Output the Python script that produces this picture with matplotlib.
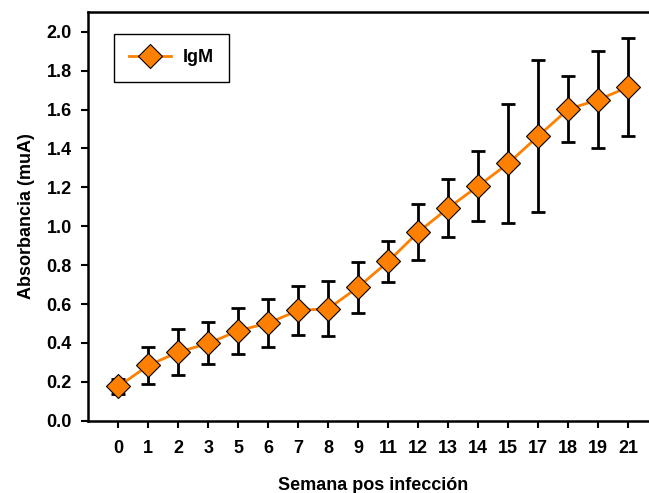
import numpy as np
import matplotlib.pyplot as plt

plt.rcParams['font.family'] = ['Liberation Sans', 'DejaVu Sans']
plt.rcParams['font.weight'] = 'bold'

# semanas pos infección (categorías) y absorbancia IgM
semanas = ['0', '1', '2', '3', '5', '6', '7', '8', '9', '11', '12', '13',
           '14', '15', '17', '18', '19', '21']
igm = [0.176, 0.284, 0.353, 0.397, 0.463, 0.502, 0.567, 0.576, 0.687, 0.819,
       0.970, 1.094, 1.207, 1.323, 1.464, 1.602, 1.650, 1.716]
err = [0.040, 0.093, 0.120, 0.108, 0.119, 0.124, 0.124, 0.140, 0.131, 0.104,
       0.146, 0.151, 0.178, 0.304, 0.390, 0.171, 0.250, 0.252]

x = np.arange(len(semanas))

fig = plt.figure(figsize=(6.49, 4.93), dpi=100)
ax = fig.add_axes([88.3 / 649, 1 - 420.7 / 493, 570 / 649, 408.4 / 493])

ax.errorbar(x, igm, yerr=err, fmt='none', ecolor='black', elinewidth=2,
            capsize=5, capthick=2, zorder=2)
ax.plot(x, igm, color='#FF8000', lw=2, marker='D', ms=12,
        markerfacecolor='#FF8000', markeredgecolor='black', markeredgewidth=0.8,
        label='IgM', zorder=3)

ax.set_xlim(-1, 18)
ax.set_ylim(0, 2.1)
ax.set_xticks(x)
ax.set_xticklabels(semanas)
ax.set_yticks(np.arange(0, 2.01, 0.2))
ax.set_yticklabels([f'{v:.1f}' for v in np.arange(0, 2.01, 0.2)])
ax.tick_params(direction='out', length=5, width=1.5, labelsize=13)
ax.tick_params(axis='x', pad=9)
ax.tick_params(axis='y', pad=7)
for s in ax.spines.values():
    s.set_linewidth(1.8)

ax.set_xlabel('Semana pos infección', fontsize=13, fontweight='bold', labelpad=14)
ax.set_ylabel('Absorbancia (muA)', fontsize=13, fontweight='bold', labelpad=8)

leg = ax.legend(loc='upper left', bbox_to_anchor=(0.045, 0.947), borderaxespad=0,
                fontsize=13, fancybox=False, edgecolor='black', framealpha=1,
                handlelength=2.3, handletextpad=0.67, borderpad=0.85)
leg.get_frame().set_linewidth(1)

fig.savefig('out.png', dpi=100)
